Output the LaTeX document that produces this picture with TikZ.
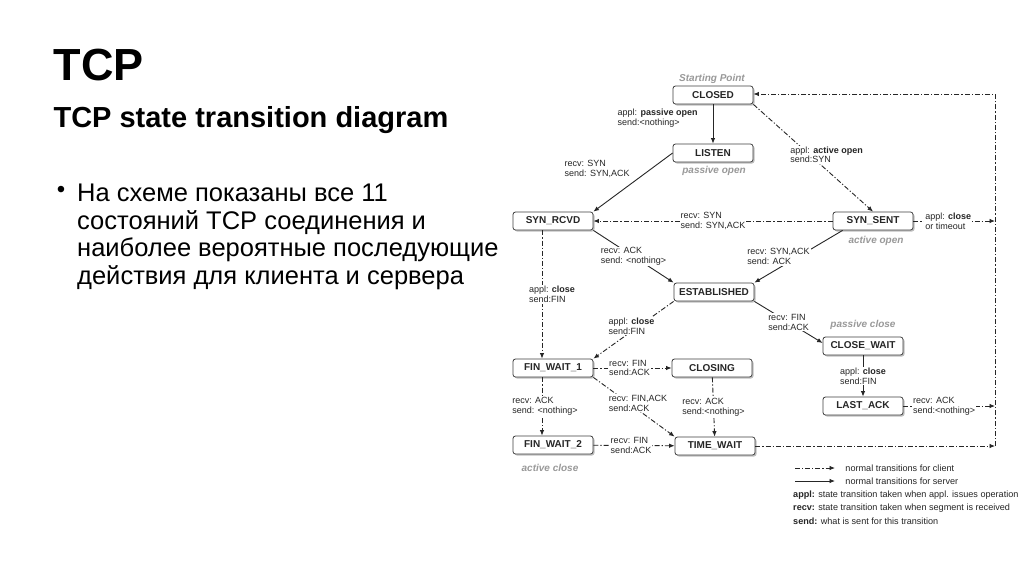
\documentclass[tikz,border=0pt]{standalone}
\usepackage{fontspec}
\setmainfont{Liberation Sans}
\usetikzlibrary{arrows.meta,shadows}
\begin{document}
\begin{tikzpicture}[x=1pt,y=-1pt,
  state/.style={draw=black!75, line width=0.8pt, rounded corners=2.5pt, fill=white,
    minimum width=80pt, minimum height=18pt, inner sep=2pt, text=black!85,
    font=\fontsize{10}{12}\selectfont\bfseries,
    drop shadow={shadow xshift=1.5pt, shadow yshift=-1.5pt, fill=black!50}},
  lbl/.style={font=\fontsize{9}{9.8}\selectfont, text=black!85, align=left, inner sep=1pt},
  key/.style={lbl, font=\fontsize{9.1}{11}\selectfont},
  note/.style={font=\fontsize{10}{12}\selectfont\bfseries\itshape, text=black!40},
  srv/.style={-{Latex[length=5.5pt,width=4.5pt]}, line width=0.9pt, draw=black!85},
  cli/.style={srv, dash pattern=on 5pt off 2pt on 1.2pt off 2pt},
]
  \useasboundingbox[fill=white] (0,0) rectangle (1024,574);

  \node[anchor=base west, font=\fontsize{45}{54}\selectfont\bfseries] (title) at (50,80) {TCP};
  \node[anchor=base west, font=\fontsize{29}{34}\selectfont\bfseries] (subtitle) at (50,127) {TCP state transition diagram};
  \node[font=\fontsize{24}{27.5}\selectfont] (bullet) at (61,192) {•};
  \node[anchor=north west, inner sep=0pt, align=left, font=\fontsize{25.5}{27.5}\selectfont] (body) at (77,184)
    {На схеме показаны все 11\\состояний TCP соединения и\\наиболее вероятные последующие\\действия для клиента и сервера};

  \node[state] (closed) at (713,95) {CLOSED};
  \node[state] (listen) at (713,153) {LISTEN};
  \node[state] (synrcvd) at (553,221) {SYN\_RCVD};
  \node[state] (synsent) at (873,221) {SYN\_SENT};
  \node[state] (estab) at (714,292) {ESTABLISHED};
  \node[state] (closewait) at (863,346) {CLOSE\_WAIT};
  \node[state] (finwait1) at (553,368) {FIN\_WAIT\_1};
  \node[state] (closing) at (712,368) {CLOSING};
  \node[state] (lastack) at (863,406) {LAST\_ACK};
  \node[state] (finwait2) at (553,445) {FIN\_WAIT\_2};
  \node[state] (timewait) at (715,446) {TIME\_WAIT};

  \node[note] (startpt) at (712,79) {Starting Point};
  \node[note] (passopen) at (714,171) {passive open};
  \node[note] (actopen) at (876,241) {active open};
  \node[note] (passclose) at (863,325) {passive close};
  \node[note] (actclose) at (550,468) {active close};

  \coordinate (railtop) at (995,94);
  \coordinate (railbot) at (995,446);

  \draw[srv] (closed) -- (listen)
    node[lbl, pos=0.35, left=14pt] {appl: \textbf{passive open}\\send:<nothing>};
  \draw[srv] (listen.west) -- (synrcvd.north east)
    node[lbl, pos=0.45, anchor=south east, xshift=-6pt] {recv: SYN\\send: SYN,ACK};
  \draw[cli] (closed.south east) -- (synsent.north)
    node[lbl, pos=0.47, fill=white, xshift=17pt] {appl: \textbf{active open}\\send:SYN};
  \draw[cli] (synsent.west) -- (synrcvd.east)
    node[lbl, midway, fill=white] {recv: SYN\\send: SYN,ACK};
  \draw[srv] (synrcvd.south east) -- (estab.north west)
    node[lbl, midway, fill=white] {recv: ACK\\send: <nothing>};
  \draw[srv] ([xshift=10pt]synsent.south west) -- (estab.north east)
    node[lbl, midway, fill=white, xshift=-20pt] {recv: SYN,ACK\\send: ACK};
  \draw[cli] ([xshift=-11pt]synrcvd.south) -- ([xshift=-11pt]finwait1.north)
    node[lbl, midway, fill=white, xshift=10pt] {appl: \textbf{close}\\send:FIN};
  \draw[cli] (estab.south west) -- (finwait1.north east)
    node[lbl, midway, fill=white, xshift=-2pt, yshift=4pt] {appl: \textbf{close}\\send:FIN};
  \draw[srv] (estab.south east) -- ([yshift=3pt]closewait.west)
    node[lbl, midway, fill=white] {recv: FIN\\send:ACK};
  \draw[srv] (closewait) -- (lastack)
    node[lbl, midway, fill=white] {appl: \textbf{close}\\send:FIN};
  \draw[cli] (finwait1) -- (closing)
    node[lbl, midway, fill=white, xshift=-3pt] {recv: FIN\\send:ACK};
  \draw[cli] (finwait1.south east) -- (timewait.north west)
    node[lbl, midway, fill=white, xshift=4pt, yshift=4pt] {recv: FIN,ACK\\send:ACK};
  \draw[cli] (closing) -- (timewait)
    node[lbl, midway, fill=white] {recv: ACK\\send:<nothing>};
  \draw[cli] ([xshift=-11pt]finwait1.south) -- ([xshift=-11pt]finwait2.north)
    node[lbl, midway, fill=white, xshift=3pt] {recv: ACK\\send: <nothing>};
  \draw[cli] (finwait2) -- (timewait)
    node[lbl, midway, fill=white, xshift=-3pt] {recv: FIN\\send:ACK};

  \draw[cli] (synsent.east) -- (synsent.east -| railtop)
    node[lbl, midway, fill=white, xshift=-6pt] {appl: \textbf{close}\\or timeout};
  \draw[cli] (lastack.east) -- (lastack.east -| railtop)
    node[lbl, midway, fill=white, xshift=-5pt] {recv: ACK\\send:<nothing>};
  \draw[cli] (timewait.east) -- (railbot);
  \draw[cli] (railbot) -- (railtop) -- (railtop -| closed.east);

  \coordinate (keyc) at (795,468);
  \coordinate (keys) at (795,481);
  \draw[cli] (keyc) -- ++(40,0) node[key, right=9pt] (keyctext) {normal transitions for client};
  \draw[srv] (keys) -- ++(40,0) node[key, right=9pt] (keystext) {normal transitions for server};
  \node[key, anchor=west] (keyappl) at (792,495) {\textbf{appl:} state transition taken when appl. issues operation};
  \node[key, anchor=west] (keyrecv) at (792,508) {\textbf{recv:} state transition taken when segment is received};
  \node[key, anchor=west] (keysend) at (792,521) {\textbf{send:} what is sent for this transition};
\end{tikzpicture}
\end{document}
